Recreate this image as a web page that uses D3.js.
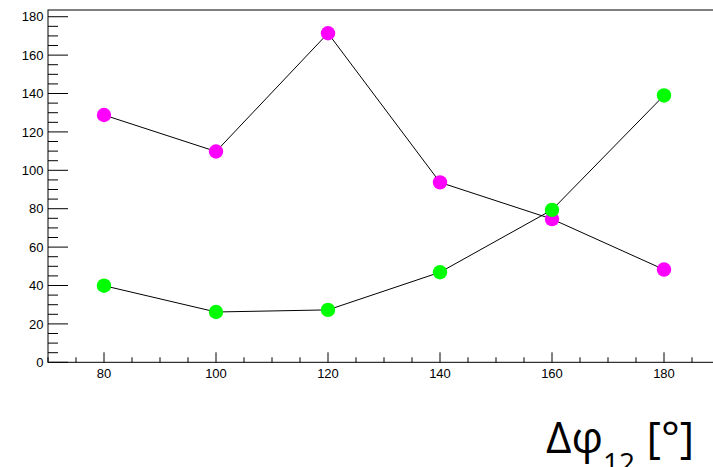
<!DOCTYPE html>
<html><head><meta charset="utf-8">
<script src="https://cdn.jsdelivr.net/npm/d3@7"></script>
<style>html,body{margin:0;padding:0;background:#fff;overflow:hidden}</style>
</head><body>
<svg id="c" width="713" height="467"></svg>
<script>
const xValues = [80, 100, 120, 140, 160, 180];
const magentaValues = [128.8, 109.8, 171.4, 93.7, 74.6, 48.3];
const greenValues = [39.9, 26.2, 27.3, 46.9, 79.4, 139.0];
const xTickLabels = [80, 100, 120, 140, 160, 180];
const yTickLabels = [0, 20, 40, 60, 80, 100, 120, 140, 160, 180];

const svg = d3.select("#c");
const padL = 48, padR = 720, padT = 10, padB = 362.3;
const x = d3.scaleLinear().domain([70, 190]).range([padL, padR]);
const y = d3.scaleLinear().domain([0, 183.5]).range([padB, padT]);

// frame
svg.append("rect").attr("x", padL).attr("y", padT).attr("width", padR - padL).attr("height", padB - padT)
  .attr("fill", "none").attr("stroke", "#000").attr("stroke-width", 1);

const tickFont = "'Liberation Sans', Arial, Helvetica, sans-serif";

// y axis
const yMinor = d3.range(0, 183.5, 5);
svg.append("g").selectAll("line").data(yMinor).join("line")
  .attr("x1", padL).attr("x2", d => padL + (d % 20 === 0 ? 20 : 10))
  .attr("y1", d => y(d)).attr("y2", d => y(d))
  .attr("stroke", "#000").attr("stroke-width", 1);
svg.append("g").selectAll("text").data(yTickLabels).join("text")
  .attr("x", 43.5).attr("y", d => y(d)).attr("dy", "0.36em")
  .attr("text-anchor", "end").attr("font-family", tickFont).attr("font-size", 13)
  .text(d => d);

// x axis
const xMinor = d3.range(70, 190.01, 5);
svg.append("g").selectAll("line").data(xMinor).join("line")
  .attr("x1", d => x(d)).attr("x2", d => x(d))
  .attr("y1", padB).attr("y2", d => padB - (d % 20 === 0 ? 10 : 5))
  .attr("stroke", "#000").attr("stroke-width", 1);
svg.append("g").selectAll("text").data(xTickLabels).join("text")
  .attr("x", d => x(d)).attr("y", 378)
  .attr("text-anchor", "middle").attr("font-family", tickFont).attr("font-size", 13)
  .text(d => d);

// axis title (subscript intentionally runs past the bottom edge, as in the reference)
const title = svg.append("text").attr("x", 546).attr("y", 453).attr("text-anchor", "start")
  .attr("font-family", "'Open Sans', 'DejaVu Sans', sans-serif").attr("font-size", 44).attr("fill", "#000");
title.append("tspan").text("Δφ");
title.append("tspan").attr("font-size", 28).attr("dy", 20).text("12");
title.append("tspan").attr("dy", -20).text(" [°]");

// series
const line = d3.line().x(d => x(d[0])).y(d => y(d[1]));
function drawSeries(vals, color) {
  const pts = xValues.map((v, i) => [v, vals[i]]);
  svg.append("path").datum(pts).attr("d", line).attr("fill", "none").attr("stroke", "#000").attr("stroke-width", 1);
  svg.append("g").selectAll("circle").data(pts).join("circle")
    .attr("cx", d => x(d[0])).attr("cy", d => y(d[1])).attr("r", 7.2).attr("fill", color);
}
drawSeries(magentaValues, "#ff00ff");
drawSeries(greenValues, "#00ff00");
</script>
</body></html>
